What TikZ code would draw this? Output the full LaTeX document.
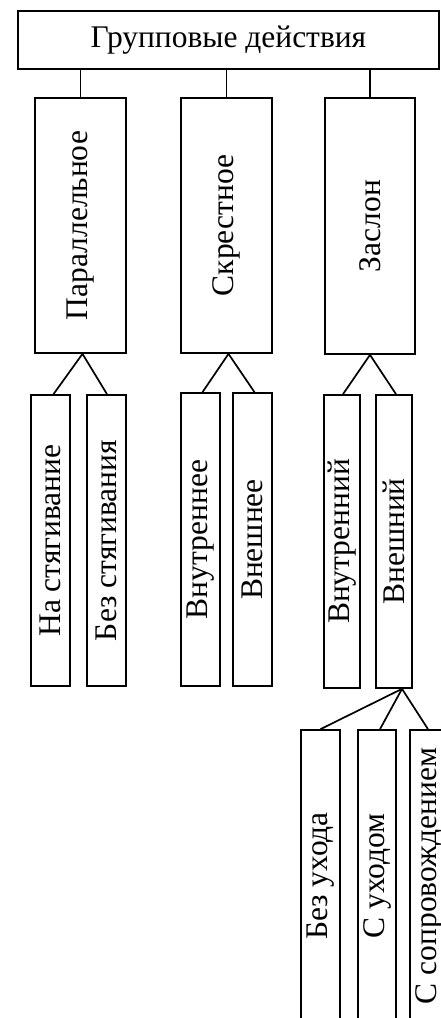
\documentclass[tikz,border=0pt]{standalone}
\usepackage{fontspec}
\usepackage{graphicx}
\setmainfont{Liberation Serif}
\tikzset{
  box/.style={draw, line width=1.7pt, inner sep=0pt, font=\fontsize{31.5}{36}\selectfont},
  conn/.style={line width=1.7pt}
}
\newcommand{\vtext}[1]{\rotatebox{90}{#1}}
\begin{document}
\begin{tikzpicture}[x=1pt,y=-1pt]
\useasboundingbox (0,0) rectangle (440,1018);
% top
\node[box, minimum width=421pt, minimum height=58pt] (top) at (228.5,40) {Групповые действия};
% second level
\node[box, minimum width=91pt, minimum height=255pt] (par) at (80.5,225.5) {\vtext{Параллельное}};
\node[box, minimum width=91pt, minimum height=255pt] (skr) at (226.5,225.5) {\vtext{Скрестное}};
\node[box, minimum width=90pt, minimum height=256pt] (zas) at (370,226) {\vtext{Заслон}};
% leaves
\node[box, minimum width=39pt, minimum height=291pt] (nast) at (50.5,540.5) {\vtext{На стягивание}};
\node[box, minimum width=39pt, minimum height=291pt] (bezst) at (106.5,540.5) {\vtext{Без стягивания}};
\node[box, minimum width=39pt, minimum height=293pt] (vnutree) at (200.5,539.5) {\vtext{Внутреннее}};
\node[box, minimum width=39pt, minimum height=293pt] (vneshee) at (252.5,539.5) {\vtext{Внешнее}};
\node[box, minimum width=36pt, minimum height=293pt] (vnutrij) at (342,541.5) {\vtext{Внутренний}};
\node[box, minimum width=36pt, minimum height=293pt] (vneshij) at (394,541.5) {\vtext{Внешний}};
% third level
\node[box, minimum width=39pt, minimum height=292pt] (bezuh) at (320.5,876) {\vtext{Без ухода}};
\node[box, minimum width=38pt, minimum height=292pt] (suh) at (377,876) {\vtext{С уходом}};
\node[box, minimum width=38pt, minimum height=292pt] (ssop) at (429,876) {\vtext{С сопровождением}};
% connectors
\draw[conn] (top.south -| par.north) -- (par.north);
\draw[conn] (top.south -| skr.north) -- (skr.north);
\draw[conn] (top.south -| zas.north) -- (zas.north);
\draw[conn] ([xshift=3pt]nast.north) -- ([xshift=2pt]par.south) -- ([xshift=0.5pt]bezst.north);
\draw[conn] ([xshift=2pt]vnutree.north) -- ([xshift=2pt]skr.south) -- ([xshift=2pt]vneshee.north);
\draw[conn] ([xshift=1pt]vnutrij.north) -- (zas.south) -- ([xshift=2pt]vneshij.north);
\coordinate (apex) at ([xshift=8pt]vneshij.south);
\draw[conn] (apex) -- (bezuh.north);
\draw[conn] (apex) -- ([xshift=3pt]suh.north);
\draw[conn] (apex) -- ([xshift=-1pt]ssop.north);
\end{tikzpicture}
\end{document}
